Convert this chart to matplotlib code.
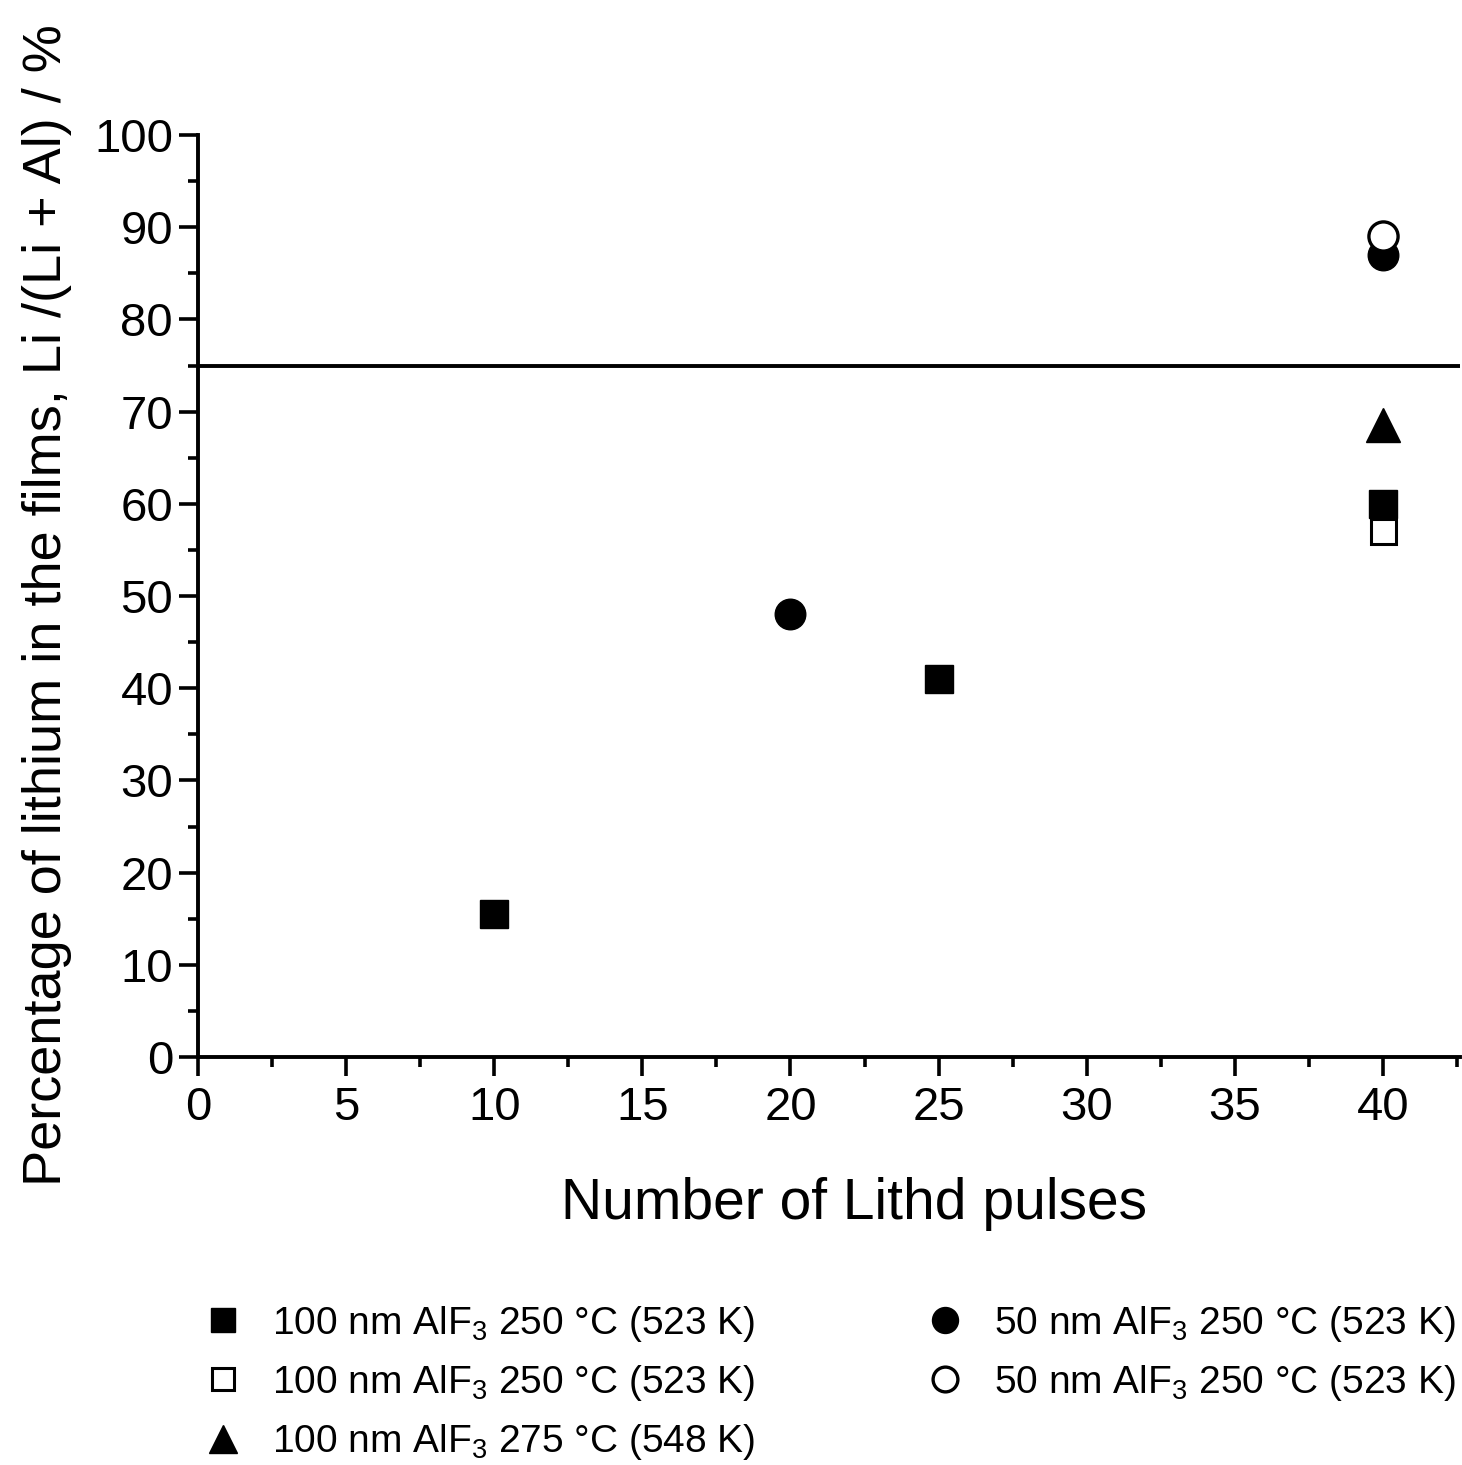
import matplotlib
matplotlib.use("Agg")
import matplotlib.pyplot as plt
from matplotlib.ticker import MultipleLocator

plt.rcParams["font.family"] = ["Liberation Sans", "DejaVu Sans"]
plt.rcParams["mathtext.fontset"] = "custom"
plt.rcParams["mathtext.rm"] = "Liberation Sans"
plt.rcParams["mathtext.it"] = "Liberation Sans"

# Li content vs number of Lithd pulses, per film / temperature
sq_filled_x = [10, 25, 40]
sq_filled_y = [15.5, 41, 60]
sq_open_x = [40]
sq_open_y = [57]
tri_x = [40]
tri_y = [68.5]
circ_filled_x = [20, 40]
circ_filled_y = [48, 87]
circ_open_x = [40]
circ_open_y = [89]

labels = [
    "100 nm AlF$_3$ 250 °C (523 K)",
    "100 nm AlF$_3$ 250 °C (523 K)",
    "100 nm AlF$_3$ 275 °C (548 K)",
    "50 nm AlF$_3$ 250 °C (523 K)",
    "50 nm AlF$_3$ 250 °C (523 K)",
]
stoich_line = 75

fig = plt.figure(figsize=(14.62, 14.65), dpi=100)
ax = fig.add_axes([198 / 1462, 1 - 1057 / 1465, 1262 / 1462, 922 / 1465])

ax.axhline(stoich_line, color="black", lw=2.8, zorder=1)

ms = 20
h1, = ax.plot(sq_filled_x, sq_filled_y, ls="none", marker="s", ms=ms,
              mfc="black", mec="black", label=labels[0])
h2, = ax.plot(sq_open_x, sq_open_y, ls="none", marker="s", ms=ms - 2,
              mfc="white", mec="black", mew=2.2, label=labels[1])
h3, = ax.plot(tri_x, tri_y, ls="none", marker="^", ms=ms + 4,
              mfc="black", mec="black", label=labels[2])
h4, = ax.plot(circ_filled_x, circ_filled_y, ls="none", marker="o", ms=ms + 2,
              mfc="black", mec="black", label=labels[3])
h5, = ax.plot(circ_open_x, circ_open_y, ls="none", marker="o", ms=ms + 1,
              mfc="white", mec="black", mew=2.4, label=labels[4])
# filled square sits above the open one at x=40
h1.set_zorder(4)
h2.set_zorder(3)

ax.set_xlim(0, 42.6)
ax.set_ylim(0, 100)
ax.xaxis.set_major_locator(MultipleLocator(5))
ax.xaxis.set_minor_locator(MultipleLocator(2.5))
ax.yaxis.set_major_locator(MultipleLocator(10))
ax.yaxis.set_minor_locator(MultipleLocator(5))

for s in ["top", "right"]:
    ax.spines[s].set_visible(False)
for s in ["left", "bottom"]:
    ax.spines[s].set_linewidth(2.8)

ax.tick_params(which="major", direction="out", length=14, width=2.6,
               labelsize=34, pad=4)
ax.tick_params(axis="x", which="major", pad=7)
ax.tick_params(which="minor", direction="out", length=7, width=2.6)

ax.set_xlabel("Number of Lithd pulses", fontsize=41, labelpad=40)
ax.xaxis.set_label_coords(0.52, -0.13)
ax.set_ylabel("Percentage of lithium in the films, Li /(Li + Al) / %",
              fontsize=39)
ax.yaxis.set_label_coords(-0.10, 0.49)

leg = fig.legend(handles=[h1, h2, h3, h4, h5], loc="upper left",
                 bbox_to_anchor=(188 / 1462, 1 - 1288 / 1465), ncol=2,
                 frameon=False, fontsize=28, markerscale=0.85,
                 handlelength=1.0, handletextpad=0.75, columnspacing=4.4,
                 labelspacing=0.5, borderaxespad=0)

fig.savefig("out.png", dpi=100)
